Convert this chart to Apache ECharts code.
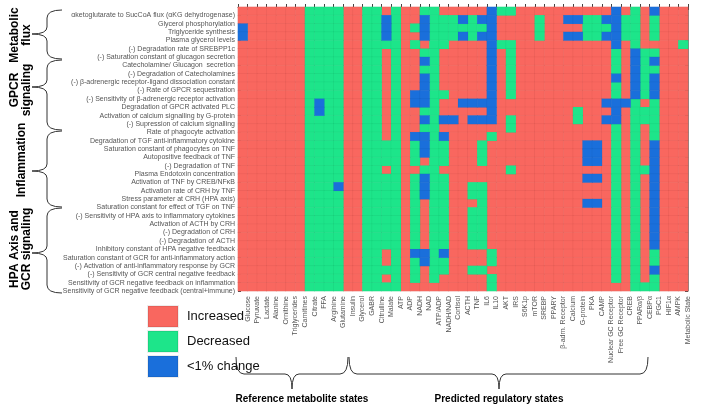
<!DOCTYPE html>
<html><head><meta charset="utf-8">
<script src="https://cdn.jsdelivr.net/npm/echarts@6/dist/echarts.min.js"></script>
<style>html,body{margin:0;padding:0;background:#fff}#c{width:702px;height:406px}</style>
</head><body><div id="c"></div>
<script>
const xLabels = ['Glucose','Pyruvate','Lactate','Alanine','Ornithine','Triglycerides','Carnitines','Citrate','FFA','Arginine',
  'Glutamine','Insulin','Glycerol','GABR','Citrulline','Malate','ATP','ADP','NADH','NAD',
  'ATP/ADP','NADH/NAD','Cortisol','ACTH','TNF','IL6','IL10','AKT','IRS','S6K1p',
  'mTOR','SREBP','PPARY','β-adrn. Receptor','Calcium','G-protein','PKA','CAMP','Nuclear GC Receptor','Free GC Receptor',
  'CREB','PPARα/β','CEBPα','PGC1','HIF1α','AMPK','Metabolic State'];
const yLabels = ['αketoglutarate to SucCoA flux (αKG dehydrogenase)','Glycerol phosphorylation','Triglyceride synthesis','Plasma glycerol levels',
  '(-) Degradation rate of SREBPP1c','(-) Saturation constant of glucagon secretion','Catecholamine/ Glucagon  secretion','(-) Degradation of Catecholamines',
  '(-) β-adrenergic receptor-ligand dissociation constant','(-) Rate of GPCR sequestration','(-) Sensitivity of β-adrenergic receptor activation',
  'Degradation of GPCR activated PLC','Activation of calcium signalling by G-protein','(-) Supression of calcium signalling','Rate of phagocyte activation',
  'Degradation of TGF anti-inflammatory cytokine','Saturation constant of phagocytes on TNF','Autopositive feedback of TNF','(-) Degradation of TNF',
  'Plasma Endotoxin concentration','Activation of TNF by CREB/NFκB','Activation rate of CRH by TNF','Stress parameter at CRH (HPA axis)',
  'Saturation constant for effect of TGF on TNF','(-) Sensitivity of HPA axis to inflammatory cytokines','Activation of ACTH by CRH','(-) Degradation of CRH',
  '(-) Degradation of ACTH','Inhibitory constant of HPA negative feedback','Saturation constant of GCR for anti-inflammatory action',
  '(-) Activation of anti-inflammatory response by GCR','(-) Sensitivity of GCR central negative feedback','Sensitivity of GCR negative feedback on inflammation',
  'Sensitivity of GCR negative feedback (central+immune)'];
const stateNames = ['Increased','Decreased','<1% change'];
const stateCodes = ['R','G','B'];
const stateColors = ['#F9675F','#1DE58A','#1A6FDB'];
// one string per parameter row, one letter per column (R increased, G decreased, B <1% change)
const states = [
 'RRRRRRRGGG GRRGGRGRRG GRRRRRBGGR RRRRRRRRRB RGRBRRR',
 'RRRRRRRGGG GRRGGBGRRB GGGBGBBRRR RGRRBBGGBB GGRGRRR',
 'BRRRRRRGGG GRRGGBGRGB GGGGGGBRRR RGRRRRGGGB GGRGRRR',
 'BRRRRRRGGG GRRGGBGRRB GGGBGBBRRR RGRRBBGGBB GGRGRRR',
 'RRRRRRRGGG GRRGGGGRGR GGRRRRBGGR RRRRRRRRRB RGRRRRG',
 'RRRRRRRGGG GRRGGRGRRG GRRRRRBRGR RRRRRRRRRG RBGGRRR',
 'RRRRRRRGGG GRRGGRGRRB GRRRRRBRGR RRRRRRRRRG RBGBRRR',
 'RRRRRRRGGG GRRGGRGRRG GRRRRRBRGR RRRRRRRRRG RBGGRRR',
 'RRRRRRRGGG GRRGGRGRRB GRRRRRBRGR RRRRRRRRRB RBGBRRR',
 'RRRRRRRGGG GRRGGRGRRB GRRRRRBRGR RRRRRRRRRG RBGBRRR',
 'RRRRRRRGGG GRRGGRGRBB GGRRRRBRGR RRRRRRRRRG RBGBRRR',
 'RRRRRRRGBG GRRGGRGRBB GRRBBBBRRR RRRRRRRRBB BGRGRRR',
 'RRRRRRRGBG GRRGGRGRRG GRRRRRBRRR RRRRRGRRRB RGGGRRR',
 'RRRRRRRGGG GRRGGRGRRB GBBRBBBRGR RRRRRGRRBB RGGGRRR',
 'RRRRRRRGGG GRRGGRGRRG GRRRRRRRGR RRRRRRRRRG RGRGRRR',
 'RRRRRRRGGG GRRGGRGRBB GBRRRRGRRR RRRRRRRRRG RGRGRRR',
 'RRRRRRRGGG GRRGGGGRGB GGRRRGRRRR RRRRRRBBRG RGRBRRR',
 'RRRRRRRGGG GRRGGGGRGB GGRRRGRRRR RRRRRRBBRG RGRBRRR',
 'RRRRRRRGGG GRRGGGGRGR GGRRRGRRRR RRRRRRBBRG RGRBRRR',
 'RRRRRRRGGG GRRGGRGRRG GRRRRRRRGR RRRRRRRRRG RGGBRRR',
 'RRRRRRRGGG GRRGGGGRGB GGRRRRRRRR RRRRRRBBRG RGRBRRR',
 'RRRRRRRGGG BRRGGGGRGB GGRRGGRRRR RRRRRRRRRG RGRBRRR',
 'RRRRRRRGGG GRRGGGGRGB GGRRGGRRRR RRRRRRRRRG RGRBRRR',
 'RRRRRRRGGG GRRGGGGRGR GGRRRGRRRR RRRRRRBBRG RGRBRRR',
 'RRRRRRRGGG GRRGGGGRGR GGRRGGRRRR RRRRRRRRRG RGRBRRR',
 'RRRRRRRGGG GRRGGGGRGR GGRRGGRRRR RRRRRRRRRG RGRBRRR',
 'RRRRRRRGGG GRRGGGGRGR GGRRGGRRRR RRRRRRRRRG RGRBRRR',
 'RRRRRRRGGG GRRGGGGRGR GGRRGGRRRR RRRRRRRRRG RGRBRRR',
 'RRRRRRRGGG GRRGGGGRGR GGRRGGRRRR RRRRRRRRRG RGRBRRR',
 'RRRRRRRGGG GRRGGRGRBB GBRRRRGRRR RRRRRRRRRG RGRGRRR',
 'RRRRRRRGGG GRRGGRGRGB GGRRRRGRRR RRRRRRRRRG RGRGRRR',
 'RRRRRRRGGG GRRGGGGRGR GGRRGGRRRR RRRRRRRRRG RGRBRRR',
 'RRRRRRRGGG GRRGGRGRGR GRRRRRGRRR RRRRRRRRRG RGRGRRR',
 'RRRRRRRGGG GRRGGGGRRR RRRRRRGRRR RRRRRRRRRR RGGGRRR'
];
const groupNames = ['Metabolic\nflux','GPCR\nsignaling','Inflammation','HPA Axis and\nGCR signaling'];
const bottomNames = ['Reference metabolite states','Predicted regulatory states'];

const seriesData = [[],[],[]];
states.forEach((row, r) => {
  row.replace(/\s/g,'').split('').forEach((ch, c) => {
    const k = stateCodes.indexOf(ch);
    if (k >= 0) seriesData[k].push([c, r, 1]);
  });
});

const FONT = 'Liberation Sans, Arial, sans-serif';
const axisLineStyle = {show:true, lineStyle:{color:'#888', width:1}};
const tickStyle = {show:true, inside:true, length:3, lineStyle:{color:'#444', width:1}};
const braceStyle = {stroke:'#333', lineWidth:1, fill:null};

function seg(x1,y1,x2,y2){ return {type:'line', silent:true, shape:{x1,y1,x2,y2}, style:braceStyle}; }
function qb(x1,y1,cx,cy,x2,y2){ return {type:'bezierCurve', silent:true, shape:{x1,y1,x2,y2,cpx1:cx,cpy1:cy}, style:braceStyle}; }
function vBrace(y1, ym, y2) {
  const xe = 62, xs = 47, xt = 32;
  return [qb(xe,y1,xs,y1,xs,y1+8), seg(xs,y1+8,xs,ym-7), qb(xs,ym-7,xs,ym,xt,ym),
          qb(xt,ym,xs,ym,xs,ym+7), seg(xs,ym+7,xs,y2-8), qb(xs,y2-8,xs,y2,xe,y2)];
}
function hBrace(x1, xm, x2) {
  const ye = 357, ys = 374, yt = 389;
  return [qb(x1,ye,x1,ys,x1+8,ys), seg(x1+8,ys,xm-7,ys), qb(xm-7,ys,xm,ys,xm,yt),
          qb(xm,yt,xm,ys,xm+7,ys), seg(xm+7,ys,x2-8,ys), qb(x2-8,ys,x2,ys,x2,ye)];
}
const vBraces = [[10,34,59],[60,87,130],[131,171,207],[208,253,293]];
const groupPos = [[21,35],[21,90],[22,160],[21,249]];
let graphics = [];
vBraces.forEach(b => { graphics = graphics.concat(vBrace(b[0],b[1],b[2])); });
groupNames.forEach((t,i) => graphics.push({type:'text', x:groupPos[i][0], y:groupPos[i][1], rotation:Math.PI/2, silent:true,
  style:{text:t, font:'bold 12px '+FONT, fill:'#000', textAlign:'center', textVerticalAlign:'middle', lineHeight:12}}));
graphics = graphics.concat(hBrace(236,292,348), hBrace(349,499,648));
graphics.push({type:'text', x:302, y:399, silent:true, style:{text:bottomNames[0], font:'bold 10px '+FONT, fill:'#000', textAlign:'center', textVerticalAlign:'middle'}});
graphics.push({type:'text', x:499, y:399, silent:true, style:{text:bottomNames[1], font:'bold 10px '+FONT, fill:'#000', textAlign:'center', textVerticalAlign:'middle'}});

const chart = echarts.init(document.getElementById('c'), null, {renderer:'canvas'});
chart.setOption({
  animation:false,
  backgroundColor:'#fff',
  textStyle:{fontFamily:FONT},
  grid:{left:238, top:7, width:450, height:284, containLabel:false},
  legend:{orient:'vertical', left:142, top:300, padding:5, itemWidth:30, itemHeight:21, itemGap:2, icon:'rect', selectedMode:false,
    data:stateNames, textStyle:{fontSize:13, color:'#111', fontFamily:FONT, padding:[0,0,0,4]}},
  xAxis:[
    {type:'category', data:xLabels.map((_,i)=>i), show:false, boundaryGap:true},
    {type:'value', min:0, max:xLabels.length, interval:1, position:'bottom', axisLine:axisLineStyle, axisTick:tickStyle, splitLine:{show:false},
      axisLabel:{rotate:90, fontSize:7, color:'#555', margin:5, fontFamily:FONT, formatter:v => xLabels[v-1] || ''}},
    {type:'value', min:0, max:xLabels.length, interval:1, position:'top', axisLine:axisLineStyle, axisTick:tickStyle, splitLine:{show:false}, axisLabel:{show:false}}
  ],
  yAxis:[
    {type:'category', data:yLabels.map((_,i)=>i), show:false, inverse:true, boundaryGap:true},
    {type:'value', min:0, max:yLabels.length, interval:1, inverse:true, position:'left', axisLine:axisLineStyle, axisTick:tickStyle, splitLine:{show:false},
      axisLabel:{fontSize:7, color:'#555', margin:3, fontFamily:FONT, formatter:v => yLabels[v-1] || ''}},
    {type:'value', min:0, max:yLabels.length, interval:1, inverse:true, position:'right', axisLine:axisLineStyle, axisTick:tickStyle, splitLine:{show:false}, axisLabel:{show:false}}
  ],
  series: stateNames.map((n,k) => ({
    name:n, type:'heatmap', xAxisIndex:0, yAxisIndex:0, data:seriesData[k],
    itemStyle:{color:stateColors[k], borderColor:'rgba(0,0,0,0.07)', borderWidth:0.5},
    emphasis:{disabled:true}, silent:true
  })),
  graphic: graphics
});
</script></body></html>
